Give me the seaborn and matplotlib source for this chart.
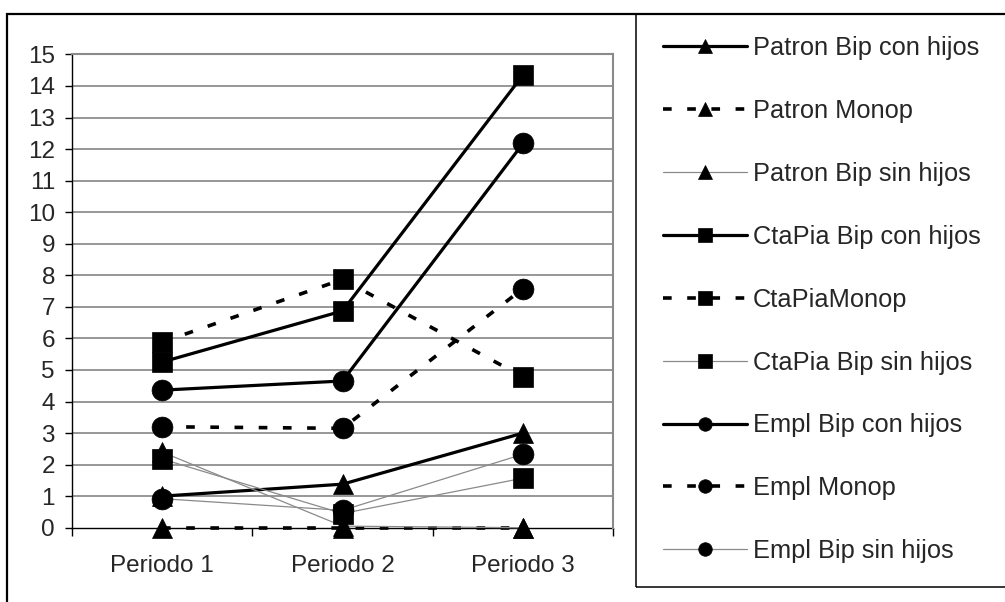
import matplotlib
matplotlib.use("Agg")
import matplotlib.pyplot as plt
from matplotlib.patches import Rectangle
from matplotlib.ticker import FixedLocator
import seaborn as sns
import pandas as pd

periods = ["Periodo 1", "Periodo 2", "Periodo 3"]

patron_bip_con_hijos = [1.0, 1.38, 3.0]
patron_monop = [0.0, 0.0, 0.0]
patron_bip_sin_hijos = [2.4, 0.05, 0.0]
ctapia_bip_con_hijos = [5.25, 6.87, 14.35]
ctapia_monop = [5.88, 7.87, 4.78]
ctapia_bip_sin_hijos = [2.18, 0.45, 1.57]
empl_bip_con_hijos = [4.36, 4.65, 12.18]
empl_monop = [3.2, 3.15, 7.58]
empl_bip_sin_hijos = [0.92, 0.55, 2.33]

series_names = ["Patron Bip con hijos", "Patron Monop", "Patron Bip sin hijos",
                "CtaPia Bip con hijos", "CtaPiaMonop", "CtaPia Bip sin hijos",
                "Empl Bip con hijos", "Empl Monop", "Empl Bip sin hijos"]
series_values = [patron_bip_con_hijos, patron_monop, patron_bip_sin_hijos,
                 ctapia_bip_con_hijos, ctapia_monop, ctapia_bip_sin_hijos,
                 empl_bip_con_hijos, empl_monop, empl_bip_sin_hijos]
markers = ["^", "^", "^", "s", "s", "s", "o", "o", "o"]
kinds = ["solid", "dashed", "thin"] * 3

sns.set_style("white")
plt.rcParams["font.family"] = ["Liberation Sans", "DejaVu Sans"]

FS = 17.5
LFS = 18.3
fig = plt.figure(figsize=(10.05, 6.02), dpi=100)
ax = fig.add_axes([0.0713, 0.1234, 0.539, 0.7862])

styles = {
    "solid": dict(color="black", linewidth=2.3, linestyle="-"),
    "dashed": dict(color="black", linewidth=2.6, linestyle=(0, (2.4, 4.3))),
    "thin": dict(color="#8a8a8a", linewidth=0.9, linestyle="-"),
}

for name, vals, mk, kind in zip(series_names, series_values, markers, kinds):
    df = pd.DataFrame({"periodo": periods, "valor": vals})
    sns.lineplot(data=df, x="periodo", y="valor", ax=ax, sort=False,
                 marker=mk, markersize=15, markerfacecolor="black",
                 markeredgecolor="black", markeredgewidth=0.5,
                 label=name, clip_on=False, zorder=3, **styles[kind])

ax.set_xlim(-0.5, 2.5)
ax.set_ylim(0, 15)
ax.set_yticks(range(0, 16))
ax.set_xlabel("")
ax.set_ylabel("")

for y in range(1, 16):
    ax.axhline(y, color="#7a7a7a", linewidth=1.1, zorder=1)

for s in ["top", "right"]:
    ax.spines[s].set_color("#8a8a8a")
    ax.spines[s].set_linewidth(1.5)
for s in ["left", "bottom"]:
    ax.spines[s].set_color("black")
    ax.spines[s].set_linewidth(1.0)
ax.spines["bottom"].set_zorder(2)

ax.tick_params(axis="y", direction="out", length=5, width=1, color="black",
               labelsize=FS, pad=7, left=True)
ax.tick_params(axis="x", which="major", length=0, labelsize=FS, pad=20)
ax.xaxis.set_minor_locator(FixedLocator([-0.5, 0.5, 1.5, 2.5]))
ax.tick_params(axis="x", which="minor", direction="out", length=6, width=1,
               color="black", bottom=True)

leg = ax.legend(loc="upper left", bbox_to_anchor=(0.6597, 0.94),
                bbox_transform=fig.transFigure, frameon=False, fontsize=LFS,
                borderaxespad=0, borderpad=0, handlelength=3.3,
                handletextpad=0.25, labelspacing=1.53, markerscale=0.65)

# outer chart frame
fig.patches.append(Rectangle((0.007, -0.5), 2.0, 0.9767 + 0.5, transform=fig.transFigure,
                             fill=False, edgecolor="black", linewidth=1.6, zorder=0))
# legend frame
fig.patches.append(Rectangle((0.6328, 0.0249), 2.0, 0.9767 - 0.0249, transform=fig.transFigure,
                             fill=False, edgecolor="black", linewidth=1.1, zorder=0))

fig.savefig("out.png", dpi=100)
